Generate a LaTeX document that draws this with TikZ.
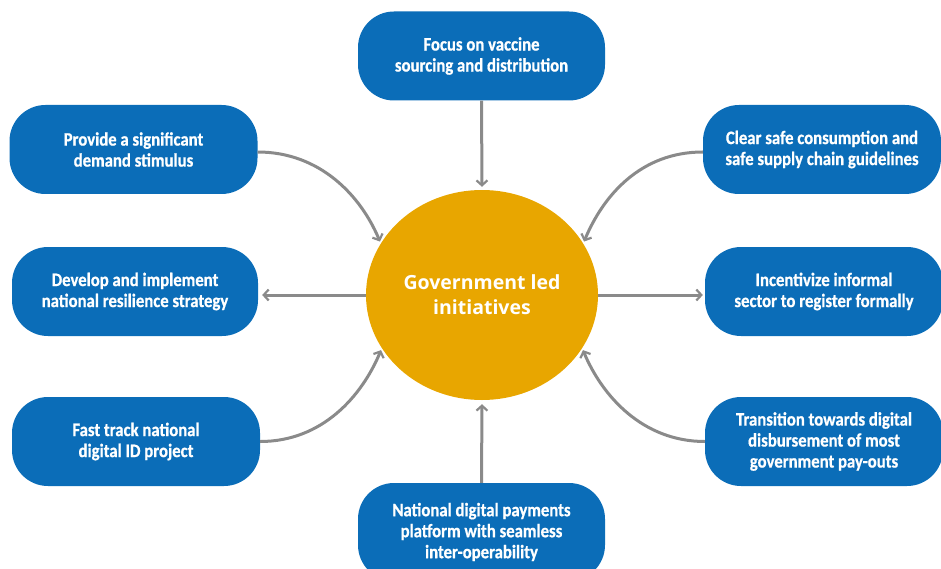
\documentclass[tikz,border=0pt]{standalone}
\usepackage{fontspec}
\setmainfont{Carlito}
\newfontfamily\boxfont[FakeStretch=0.88,BoldFeatures={FakeBold=0.7}]{Carlito}
\newfontfamily\hubfont{Open Sans}
\usetikzlibrary{shapes.geometric,arrows.meta}
\definecolor{boxblue}{HTML}{0B6DB8}
\definecolor{hubgold}{HTML}{E8A600}
\definecolor{arrgray}{HTML}{8A8A8A}
\begin{document}
\begin{tikzpicture}[x=1pt,y=-1pt,
  topic/.style={fill=boxblue, rounded corners=36pt, minimum width=248pt, minimum height=89pt,
    align=center, text=white, inner sep=0pt,
    font=\boxfont\bfseries\fontsize{19}{21}\selectfont},
  hub/.style={ellipse, fill=hubgold, minimum width=232pt, minimum height=210pt, inner sep=0pt,
    align=center, text=white, font=\hubfont\bfseries\fontsize{19.5}{25}\selectfont},
  link/.style={draw=arrgray, line width=3pt,
    -{Straight Barb[length=5pt,width=11pt,line width=2.2pt]}}
]
\useasboundingbox (0,0) rectangle (941,569);
\clip (0,0) rectangle (941,569);

\node[hub] (c) at (482,295) {Government led\\initiatives};

\node[topic, minimum width=247pt] (top) at (481.5,56) {Focus on vaccine\\sourcing and distribution};
\node[topic] (tl) at (133.5,149.5) {Provide a significant\\demand stimulus};
\node[topic, minimum width=246pt] (ml) at (135,291.5) {Develop and implement\\national resilience strategy};
\node[topic] (bl) at (136,441.5) {Fast track national\\digital ID project};
\node[topic, minimum width=238pt] (tr) at (822,149.5) {Clear safe consumption and\\safe supply chain guidelines};
\node[topic, minimum width=238pt] (mr) at (824,291.5) {Incentivize informal\\sector to register formally};
\node[topic, minimum width=238pt] (br) at (824,441.5) {Transition towards digital\\disbursement of most\\government pay-outs};
\node[topic, minimum width=247pt, minimum height=98pt] (bot) at (481.5,532) {National digital payments\\platform with seamless\\inter-operability};

\draw[link, shorten >=3pt] (top.south) -- (c.north);
\draw[link, shorten >=4pt] (bot.north) -- (c.south);
\draw[link, shorten >=4pt] (c.west) -- (c.west -| ml.east);
\draw[link, shorten >=2pt] (c.east) -- (c.east -| mr.west);

\draw[link, shorten >=2pt] ([yshift=-2.5pt]tl.east) .. controls +(62,0) and +(-20,-48) .. (c.153);
\draw[link, shorten >=2pt] ([yshift=-2.5pt]tr.west) .. controls +(-62,0) and +(20,-48) .. (c.27);
\draw[link, shorten >=2pt] (bl.east) .. controls +(62,0) and +(-20,48) .. (c.208);
\draw[link, shorten >=2pt] (br.west) .. controls +(-62,0) and +(20,48) .. (c.332);
\end{tikzpicture}
\end{document}
